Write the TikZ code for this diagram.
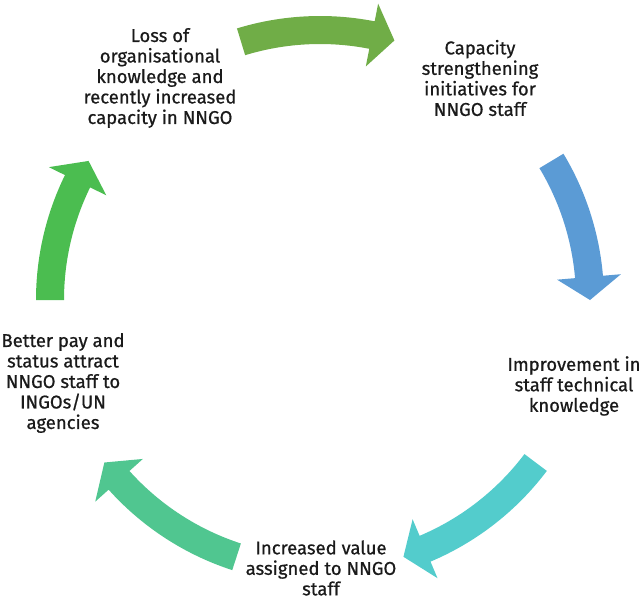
\documentclass[tikz,border=0pt]{standalone}
\usepackage{fontspec}
\setmainfont{Fira Sans}[FakeBold=0.7]
\usetikzlibrary{calc}

\definecolor{arrowA}{HTML}{70AD47}
\definecolor{arrowB}{HTML}{5B9BD5}
\definecolor{arrowC}{HTML}{53CCCC}
\definecolor{arrowD}{HTML}{50C690}
\definecolor{arrowE}{HTML}{4BBD50}
\definecolor{txt}{HTML}{1A1A1A}

% curved block arrow on the cycle: tail angle, tip angle, colour
\newcommand\cyclearrow[3]{%
  \pgfmathsetmacro\headang{#2+4.9}%
  \fill[#3] ($(C)+(#1:284)$) arc[start angle=#1, end angle=\headang, radius=284]
    -- ($(C)+(\headang:302)$) -- ($(C)+(#2:270)$) -- ($(C)+(\headang:238)$)
    -- ($(C)+(\headang:256)$) arc[start angle=\headang, end angle=#1, radius=256]
    -- cycle;}

\begin{document}
\begin{tikzpicture}[x=1pt,y=1pt,
  label/.style={align=center, inner sep=0pt, text=txt,
    font=\fontsize{18.5}{20.5}\selectfont}]
\useasboundingbox (0,0) rectangle (643,-598);
\coordinate (C) at (320,-300);

% the five arrows of the cycle
\cyclearrow{107}{74}{arrowA}
\cyclearrow{31}{0}{arrowB}
\cyclearrow{-37}{-72}{arrowC}
\cyclearrow{-108}{-143}{arrowD}
\cyclearrow{180}{149}{arrowE}

% stages
\node[label] (loss) at (160,-78) {Loss of\\organisational\\knowledge and\\recently increased\\capacity in NNGO};
\node[label] (capacity) at (480,-78) {Capacity\\strengthening\\initiatives for\\NNGO staff};
\node[label] (improve) at (574,-386) {Improvement in\\staff technical\\knowledge};
\node[label] (value) at (321,-568) {Increased value\\assigned to NNGO\\staff};
\node[label] (better) at (63,-383) {Better pay and\\status attract\\NNGO staff to\\INGOs/UN\\agencies};
\end{tikzpicture}
\end{document}
